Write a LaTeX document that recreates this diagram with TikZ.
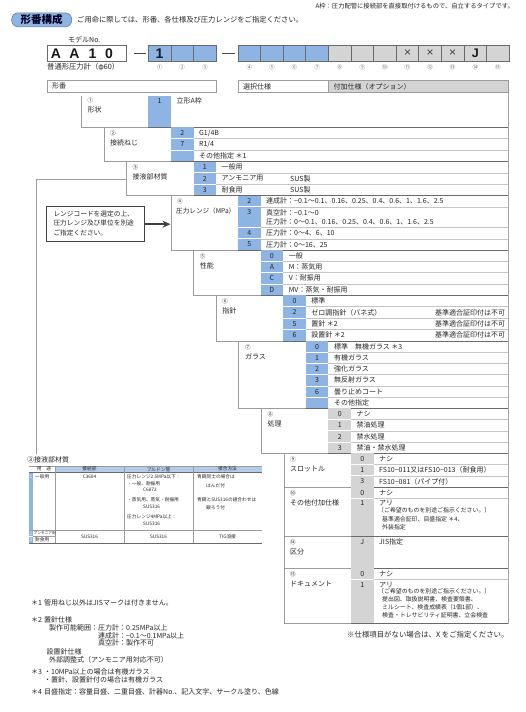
\documentclass[tikz,border=0pt]{standalone}
\usepackage{fontspec}
\setmainfont{Noto Sans CJK JP}
\newfontfamily\hv{Liberation Sans}
\usetikzlibrary{arrows.meta}
\definecolor{cblue}{HTML}{8DB4E2}
\definecolor{cgray}{HTML}{D4D4D4}
\definecolor{hblue}{HTML}{B3CCEA}
\definecolor{dline}{HTML}{6A6A6A}
\definecolor{lline}{HTML}{9C9C9C}
\definecolor{rline}{HTML}{C4C4C4}
\definecolor{tx}{HTML}{262626}
\definecolor{pill}{HTML}{8DB4E2}
\newcommand\mkblk[5]{%
  \fill[#5] (#4,#1) rectangle ({#4+22.6},#2);
  \draw[lbox] (#3,#1) -- (#3,#2) -- (#4,#2);
  \draw[sline] (#4,#2) -- (508.5,#2);}
\newcommand\mkrow[2]{%
  \draw[white,line width=0.8pt] (#1,#2) -- ({#1+22.6},#2);
  \draw[rsep] ({#1+22.6},#2) -- (508.5,#2);}
\newcommand\mklab[4]{%
  \node[cn] at ({#1+6},{#2+6}) {#3};
  \node[txt] at ({#1+6},{#2+15.5}) {#4};}
\newcommand\rowtxt[4]{%
  \node[cod] at ({#1+11.3},#2) {#3};
  \node[txt] at ({#1+28},#2) {#4};}
\begin{document}
\begin{tikzpicture}[x=1pt,y=-1pt,
  every node/.style={inner sep=0pt, text=tx},
  txt/.style={anchor=west, font=\fontsize{7}{8}\selectfont},
  sub/.style={anchor=west, font=\fontsize{5.9}{7}\selectfont},
  cod/.style={font=\fontsize{7}{8}\selectfont},
  cn/.style={anchor=west, font=\fontsize{5.6}{6}\selectfont},
  cnc/.style={font=\fontsize{5.6}{6}\selectfont, text=black!60},
  tb/.style={font=\fontsize{4.7}{5}\selectfont},
  tbl/.style={anchor=west, font=\fontsize{4.7}{5}\selectfont},
  fn/.style={anchor=west, font=\fontsize{7}{8}\selectfont},
  lbox/.style={draw=lline, line width=0.7pt},
  sline/.style={draw=dline, line width=1pt},
  rsep/.style={draw=rline, line width=0.5pt},
  mbox/.style={draw=dline, line width=0.7pt},
  arr/.style={draw=black!75, line width=1.6pt, -{Stealth[length=8pt,width=7pt]}}]
\fill[white] (0,0) rectangle (526,712);
\useasboundingbox (0,0) rectangle (526,712);

% ---------- top texts ----------
\node[anchor=east, font=\fontsize{6.3}{7}\selectfont] (toptext) at (514,6) {A枠：圧力配管に接続部を直接取付けるもので、自立するタイプです。};
\draw[fill=pill, draw=pill!70!black, line width=0.6pt, rounded corners=6.5pt] (11.7,12.8) rectangle (71.7,26.8);
\node[font=\fontsize{10.5}{11}\selectfont\bfseries, text=black!85!blue] (title) at (41.5,19.8) {形番構成};
\node[anchor=west, font=\fontsize{7.3}{8}\selectfont] (intro) at (77,20) {ご用命に際しては、形番、各仕様及び圧力レンジをご指定ください。};
\node[anchor=west, font=\fontsize{7}{8}\selectfont] (modelno) at (68,39.5) {モデルNo.};

% ---------- model number boxes ----------
\draw[mbox, fill=white] (47,45) rectangle (126,61);
\foreach \x/\c in {56/A,74.5/A,92.5/1,109/0}
  \node[font=\hv\bfseries\fontsize{14}{14}\selectfont, text=black!90] at (\x,53.3) {\c};
\draw[draw=black!70, line width=0.8pt] (133.5,53) -- (146,53);
\draw[draw=black!70, line width=0.8pt] (222,53) -- (235,53);
\foreach \i in {0,1,2} \draw[mbox, fill=cblue] ({148.3+22.6*\i},45) rectangle ++(22.6,16);
\foreach \i in {0,...,3} \draw[mbox, fill=cblue] ({238+22.6*\i},45) rectangle ++(22.6,16);
\foreach \i in {4,...,11} \draw[mbox, fill=cgray] ({238+22.6*\i},45) rectangle ++(22.6,16);
\node[font=\hv\bfseries\fontsize{14}{14}\selectfont, text=black!90] (m1) at (159.6,53.3) {1};
\foreach \x in {407.5,430.1,452.7}
  \node[font=\hv\fontsize{12}{12}\selectfont, text=black!75] at (\x,53) {×};
\node[font=\hv\bfseries\fontsize{12.5}{13}\selectfont, text=black!90] (m14) at (475.3,53.3) {J};
\node[anchor=west, font=\fontsize{7.3}{8}\selectfont] (ftype) at (47,67.3) {普通形圧力計（φ60）};
\foreach \x/\n in {159.6/①,182.2/②,204.8/③,249.3/④,271.9/⑤,294.5/⑥,317.1/⑦,339.7/⑧,362.3/⑨,384.9/⑩,407.5/⑪,430.1/⑫,452.7/⑬,475.3/⑭,497.9/⑮}
  \node[cnc] at (\x,67.3) {\n};

% ---------- header bars ----------
\draw[draw=lline, line width=0.7pt, fill=white] (47,80.5) rectangle (216.1,92.3);
\draw[draw=lline, line width=0.7pt, fill=white] (238,80.5) rectangle (328.4,92.3);
\draw[draw=lline, line width=0.7pt, fill=cgray] (328.4,80.5) rectangle (508.5,92.3);
\node[fn] (h1) at (52,86.4) {形番};
\node[fn] (h2) at (243,86.4) {選択仕様};
\node[fn] (h3) at (333.5,86.4) {付加仕様（オプション）};

% ---------- blocks ----------
\mkblk{96}{127.3}{81.3}{148.3}{cblue}
\mkblk{127.3}{161.5}{103.9}{170.9}{cblue}
\mkblk{161.5}{195.5}{126.5}{193.5}{cblue}
\mkblk{195.5}{250}{171}{238}{cblue}
\mkblk{250}{295.3}{193.6}{260.6}{cblue}
\mkblk{295.3}{341}{216.2}{283.2}{cblue}
\mkblk{341}{408.3}{238.8}{305.8}{cblue}
\mkblk{408.3}{453.3}{261.4}{328.4}{cgray}
\mkblk{453.3}{487}{284}{351}{cgray}
\mkblk{487}{536.7}{284}{351}{cgray}
\mkblk{536.7}{568.3}{284}{351}{cgray}
\mkblk{568.3}{623.5}{284}{351}{cgray}
\foreach \y in {138.7,150.1} {\mkrow{170.9}{\y}}
\foreach \y in {172.8,184.2} {\mkrow{193.5}{\y}}
\foreach \y in {206.8,227.6,238.8} {\mkrow{238}{\y}}
\foreach \y in {261.3,272.6,284} {\mkrow{260.6}{\y}}
\foreach \y in {306.7,318.1,329.6} {\mkrow{283.2}{\y}}
\foreach \y in {352.2,363.4,374.6,385.9,397.1} {\mkrow{305.8}{\y}}
\foreach \y in {419.6,430.8,442.1} {\mkrow{328.4}{\y}}
\foreach \y in {464.5,475.8} {\mkrow{351}{\y}}
\mkrow{351}{498.2}
\mkrow{351}{579.5}
\draw[draw=black!35, line width=1.3pt] (508.5,92.3) -- (508.5,623.5);

% labels
\mklab{81.3}{94}{①}{形状}
\mklab{103.9}{127.3}{②}{接続ねじ}
\mklab{126.5}{161.5}{③}{接液部材質}
\node[cn] at (177,201.5) {④};
\node[anchor=west, font=\fontsize{6.6}{8}\selectfont] at (176,211) {圧力レンジ（MPa）};
\mklab{193.6}{250}{⑤}{性能}
\mklab{216.2}{295.3}{⑥}{指針}
\mklab{238.8}{341}{⑦}{ガラス}
\mklab{261.4}{408.3}{⑧}{処理}
\mklab{284}{453.3}{⑨}{スロットル}
\mklab{284}{487}{⑩}{その他付加仕様}
\mklab{284}{536.7}{⑭}{区分}
\mklab{284}{568.3}{⑮}{ドキュメント}

% row texts
\rowtxt{148.3}{100.8}{1}{立形A枠}
\rowtxt{170.9}{133}{2}{G1/4B}
\rowtxt{170.9}{144.4}{7}{R1/4}
\rowtxt{170.9}{155.8}{}{その他指定 ＊1}
\rowtxt{193.5}{167.2}{1}{一般用}
\rowtxt{193.5}{178.5}{2}{アンモニア用}
\rowtxt{193.5}{189.9}{3}{耐食用}
\node[txt] at (290,178.5) {SUS製};
\node[txt] at (290,189.9) {SUS製};
\rowtxt{238}{201.2}{2}{連成計：−0.1～0.1、0.16、0.25、0.4、0.6、1、1.6、2.5}
\rowtxt{238}{212.4}{3}{真空計：−0.1～0}
\node[txt] at (266,221.8) {圧力計：0～0.1、0.16、0.25、0.4、0.6、1、1.6、2.5};
\rowtxt{238}{233.2}{4}{圧力計：0～4、6、10}
\rowtxt{238}{244.4}{5}{圧力計：0～16、25}
\rowtxt{260.6}{255.7}{0}{一般}
\rowtxt{260.6}{267}{A}{M：蒸気用}
\rowtxt{260.6}{278.3}{C}{V：耐振用}
\rowtxt{260.6}{289.7}{D}{MV：蒸気・耐振用}
\rowtxt{283.2}{301}{0}{標準}
\rowtxt{283.2}{312.4}{2}{ゼロ調指針（バネ式）}
\rowtxt{283.2}{323.9}{5}{置針 ＊2}
\rowtxt{283.2}{335.3}{6}{設置針 ＊2}
\foreach \y in {312.4,323.9,335.3} \node[txt] at (435,\y) {基準適合証印付は不可};
\rowtxt{305.8}{346.6}{0}{標準　無機ガラス ＊3}
\rowtxt{305.8}{357.8}{1}{有機ガラス}
\rowtxt{305.8}{369}{2}{強化ガラス}
\rowtxt{305.8}{380.3}{3}{無反射ガラス}
\rowtxt{305.8}{391.5}{6}{曇り止めコート}
\rowtxt{305.8}{402.7}{}{その他指定}
\rowtxt{328.4}{414}{0}{ナシ}
\rowtxt{328.4}{425.2}{1}{禁油処理}
\rowtxt{328.4}{436.5}{2}{禁水処理}
\rowtxt{328.4}{447.7}{3}{禁油・禁水処理}
\rowtxt{351}{458.9}{0}{ナシ}
\rowtxt{351}{470.2}{1}{FS10−011又はFS10−013（耐食用）}
\rowtxt{351}{481.4}{3}{FS10−081（パイプ付）}
\rowtxt{351}{492.6}{0}{ナシ}
\rowtxt{351}{503.3}{1}{アリ}
\node[sub] at (378,510.5) {〔ご希望のものを別途ご指示ください。〕};
\node[sub] at (382,519) {基準適合証印、目盛指定 ＊4、};
\node[sub] at (382,527.5) {外装指定};
\rowtxt{351}{542.2}{J}{JIS指定}
\rowtxt{351}{573.9}{0}{ナシ}
\rowtxt{351}{584.5}{1}{アリ}
\node[sub] at (378,591.5) {〔ご希望のものを別途ご指示ください。〕};
\node[sub] at (382,599.5) {提出図、取扱説明書、検査要領書、};
\node[sub] at (382,607.5) {ミルシート、検査成績表（1個1部）、};
\node[sub] at (382,615.5) {検査・トレサビリティ証明書、立会検査};

% ---------- callout ----------
\node[draw=black!75, line width=0.9pt, minimum width=97.3pt, minimum height=35pt] (callout) at (95.35,224.2) {};
\node[anchor=west, font=\fontsize{6.7}{7}\selectfont] (co1) at (53.3,214) {レンジコードを選定の上、};
\node[anchor=west, font=\fontsize{6.7}{7}\selectfont] (co2) at (53.3,223.2) {圧力レンジ及び単位を別途};
\node[anchor=west, font=\fontsize{6.7}{7}\selectfont] (co3) at (53.3,232.6) {ご指定ください。};
\coordinate (b4) at (170.5,224.2);
\draw[arr] (callout.east) -- (b4);

% ---------- connector to material table ----------
\coordinate (c3) at (126.5,179.3);
\coordinate (t3) at (36,453.5);
\draw[draw=lline, line width=0.6pt] (c3) -| (t3);

% ---------- material table ----------
\node[fn] (ttitle) at (27,460) {③接液部材質};
\fill[hblue] (55,466) rectangle (262,472.5);
\fill[cblue] (29,472.5) rectangle (33,543);
\draw[white, line width=0.6pt] (29,530) -- (33,530);
\draw[white, line width=0.6pt] (29,536.5) -- (33,536.5);
\draw[draw=lline, line width=0.5pt] (29,466) -- (262,466);
\draw[draw=dline, line width=0.6pt] (29,472.5) -- (262,472.5);
\draw[draw=lline, line width=0.5pt] (29,530) -- (262,530);
\draw[draw=lline, line width=0.4pt] (33,536.5) -- (55,536.5);
\draw[draw=dline, line width=0.6pt] (29,543) -- (262,543);
\foreach \x in {55,124,193} \draw[draw=lline, line width=0.4pt] (\x,466) -- (\x,543);
\node[tb] at (44,469.2) {用　途};
\node[tb] at (89.5,469.2) {接続部};
\node[tb] at (158.5,469.2) {ブルドン管};
\node[tb] at (227.5,469.2) {接合方法};
\node[tb, text=white] at (31,476.5) {1};
\node[tbl] at (35,476.5) {一般用};
\node[tb] at (89.5,476.5) {C3604};
\node[tbl] at (127,476.5) {圧力レンジ2.5MPa以下：};
\node[tbl] at (127,483.5) {・一般、耐振用};
\node[tbl] at (143,490) {C6872};
\node[tbl] at (127,499.5) {・蒸気用、蒸気・耐振用};
\node[tbl] at (143,506.3) {SUS316};
\node[tbl] at (127,516.8) {圧力レンジ4MPa以上：};
\node[tbl] at (143,523.6) {SUS316};
\node[tbl] at (197,476.5) {青銅同士の場合は};
\node[tbl] at (206,485.5) {はんだ付};
\node[tbl] at (197,500) {青銅とSUS316の組合わせは};
\node[tbl] at (206,507.5) {銀ろう付};
\node[tb, text=white] at (31,533.3) {2};
\node[anchor=west, font=\fontsize{3.7}{4}\selectfont] at (33.6,533.3) {アンモニア用};
\node[tb, text=white] at (31,539.8) {3};
\node[tbl] at (35,539.8) {耐食用};
\node[tb] at (89.5,536.7) {SUS316};
\node[tb] at (158.5,536.7) {SUS316};
\node[tb] at (227.5,536.7) {TIG溶接};

% ---------- notes ----------
\node[anchor=west, font=\fontsize{7.4}{8}\selectfont] (note) at (347,635) {※仕様項目がない場合は、X をご指定ください。};
\node[fn] at (31,603) {＊1};
\node[fn] at (44,603) {管用ねじ以外はJISマークは付きません。};
\node[fn] at (31,619.5) {＊2};
\node[fn] at (44,619.5) {置針仕様};
\node[fn] at (49,627.5) {製作可能範囲：圧力計：0.25MPa以上};
\node[fn] at (98,635.5) {連成計：−0.1～0.1MPa以上};
\node[fn] at (98,643.3) {真空計：製作不可};
\node[fn] at (46.5,652) {設置針仕様};
\node[fn] at (49,660) {外部調整式（アンモニア用対応不可）};
\node[fn] at (31,672) {＊3};
\node[fn] at (44,672) {・10MPa以上の場合は有機ガラス};
\node[fn] at (44,680) {・置針、設置針付の場合は有機ガラス};
\node[fn] at (31,692) {＊4};
\node[fn] at (44,692) {目盛指定：容量目盛、二重目盛、計器No.、記入文字、サークル塗り、色線};
\end{tikzpicture}
\end{document}
